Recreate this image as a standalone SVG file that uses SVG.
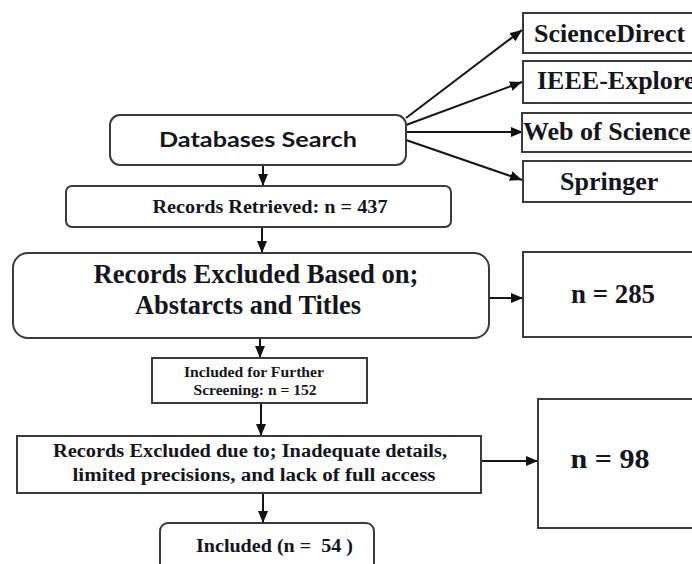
<svg xmlns="http://www.w3.org/2000/svg" width="692" height="564" viewBox="0 0 692 564">
<defs>
<marker id="ah" markerUnits="userSpaceOnUse" markerWidth="12" markerHeight="10" refX="12" refY="5" orient="auto">
<path d="M0,0 L12,5 L0,10 z" fill="#111"/>
</marker>
<style>
.box{fill:#fff;stroke:#3a3a3a;stroke-width:2}
.edge{stroke:#151515;stroke-width:2;fill:none;marker-end:url(#ah)}
.t{font-family:"Liberation Serif","Times New Roman",serif;font-weight:bold;fill:#151520}
.s{font-family:Lato,"Open Sans","Liberation Sans",sans-serif;font-weight:bold;fill:#151520}
</style>
</defs>
<rect width="692" height="564" fill="#fff"/>
<g id="connectors">
<line class="edge" x1="406" y1="118" x2="522" y2="30"/>
<line class="edge" x1="406" y1="125" x2="522" y2="82"/>
<line class="edge" x1="406" y1="132" x2="523" y2="132"/>
<line class="edge" x1="406" y1="140" x2="522" y2="180"/>
<line class="edge" x1="263" y1="165" x2="263" y2="186"/>
<line class="edge" x1="262" y1="227" x2="262" y2="253"/>
<line class="edge" x1="260" y1="338" x2="260" y2="358"/>
<line class="edge" x1="261" y1="403" x2="261" y2="436"/>
<line class="edge" x1="263" y1="493" x2="263" y2="523"/>
<line class="edge" x1="489" y1="298" x2="523" y2="298"/>
<line class="edge" x1="481" y1="461" x2="538" y2="461"/>
</g>
<g id="db-search">
<rect class="box" x="110" y="115" width="296" height="50" rx="10"/>
<text class="s" x="258" y="147" font-size="21" text-anchor="middle" textLength="198" lengthAdjust="spacingAndGlyphs">Databases Search</text>
</g>
<g id="sciencedirect">
<rect class="box" x="523" y="13" width="190" height="40"/>
<text class="t" x="534" y="42" font-size="26">ScienceDirect</text>
</g>
<g id="ieee">
<rect class="box" x="523" y="61" width="190" height="42"/>
<text class="t" x="537" y="89" font-size="26">IEEE-Explore</text>
</g>
<g id="wos">
<rect class="box" x="522" y="113" width="190" height="39"/>
<text class="t" x="523" y="140" font-size="26">Web of Science</text>
</g>
<g id="springer">
<rect class="box" x="523" y="161" width="190" height="41"/>
<text class="t" x="560" y="190" font-size="26">Springer</text>
</g>
<g id="retrieved">
<rect class="box" x="66" y="186" width="385" height="41" rx="6"/>
<text class="t" x="270" y="213" font-size="18" text-anchor="middle" textLength="235" lengthAdjust="spacingAndGlyphs">Records Retrieved: n = 437</text>
</g>
<g id="excluded1">
<rect class="box" x="13" y="253" width="476" height="85" rx="15"/>
<text class="t" x="256" y="283" font-size="26.5" text-anchor="middle" textLength="325" lengthAdjust="spacingAndGlyphs">Records Excluded Based on;</text>
<text class="t" x="248" y="314" font-size="26.5" text-anchor="middle" textLength="226" lengthAdjust="spacingAndGlyphs">Abstarcts and Titles</text>
</g>
<g id="n285">
<rect class="box" x="523" y="252" width="190" height="85"/>
<text class="t" x="613" y="303" font-size="27" text-anchor="middle" textLength="84" lengthAdjust="spacingAndGlyphs">n = 285</text>
</g>
<g id="further">
<rect class="box" x="152" y="358" width="215" height="45"/>
<text class="t" x="254" y="377" font-size="15" text-anchor="middle" textLength="140" lengthAdjust="spacingAndGlyphs">Included for Further</text>
<text class="t" x="255" y="395" font-size="15" text-anchor="middle" textLength="123" lengthAdjust="spacingAndGlyphs">Screening: n = 152</text>
</g>
<g id="excluded2">
<rect class="box" x="17" y="436" width="464" height="57"/>
<text class="t" x="250" y="457" font-size="18" text-anchor="middle" textLength="394" lengthAdjust="spacingAndGlyphs">Records Excluded due to; Inadequate details,</text>
<text class="t" x="254" y="481" font-size="18" text-anchor="middle" textLength="363" lengthAdjust="spacingAndGlyphs">limited precisions, and lack of full access</text>
</g>
<g id="n98">
<rect class="box" x="538" y="399" width="180" height="129"/>
<text class="t" x="610" y="468" font-size="27" text-anchor="middle" textLength="79" lengthAdjust="spacingAndGlyphs">n = 98</text>
</g>
<g id="included">
<rect class="box" x="160" y="523" width="214" height="60" rx="8"/>
<text class="t" x="196" y="552" font-size="19" textLength="157" lengthAdjust="spacingAndGlyphs" xml:space="preserve">Included (n =  54 )</text>
</g>
</svg>
